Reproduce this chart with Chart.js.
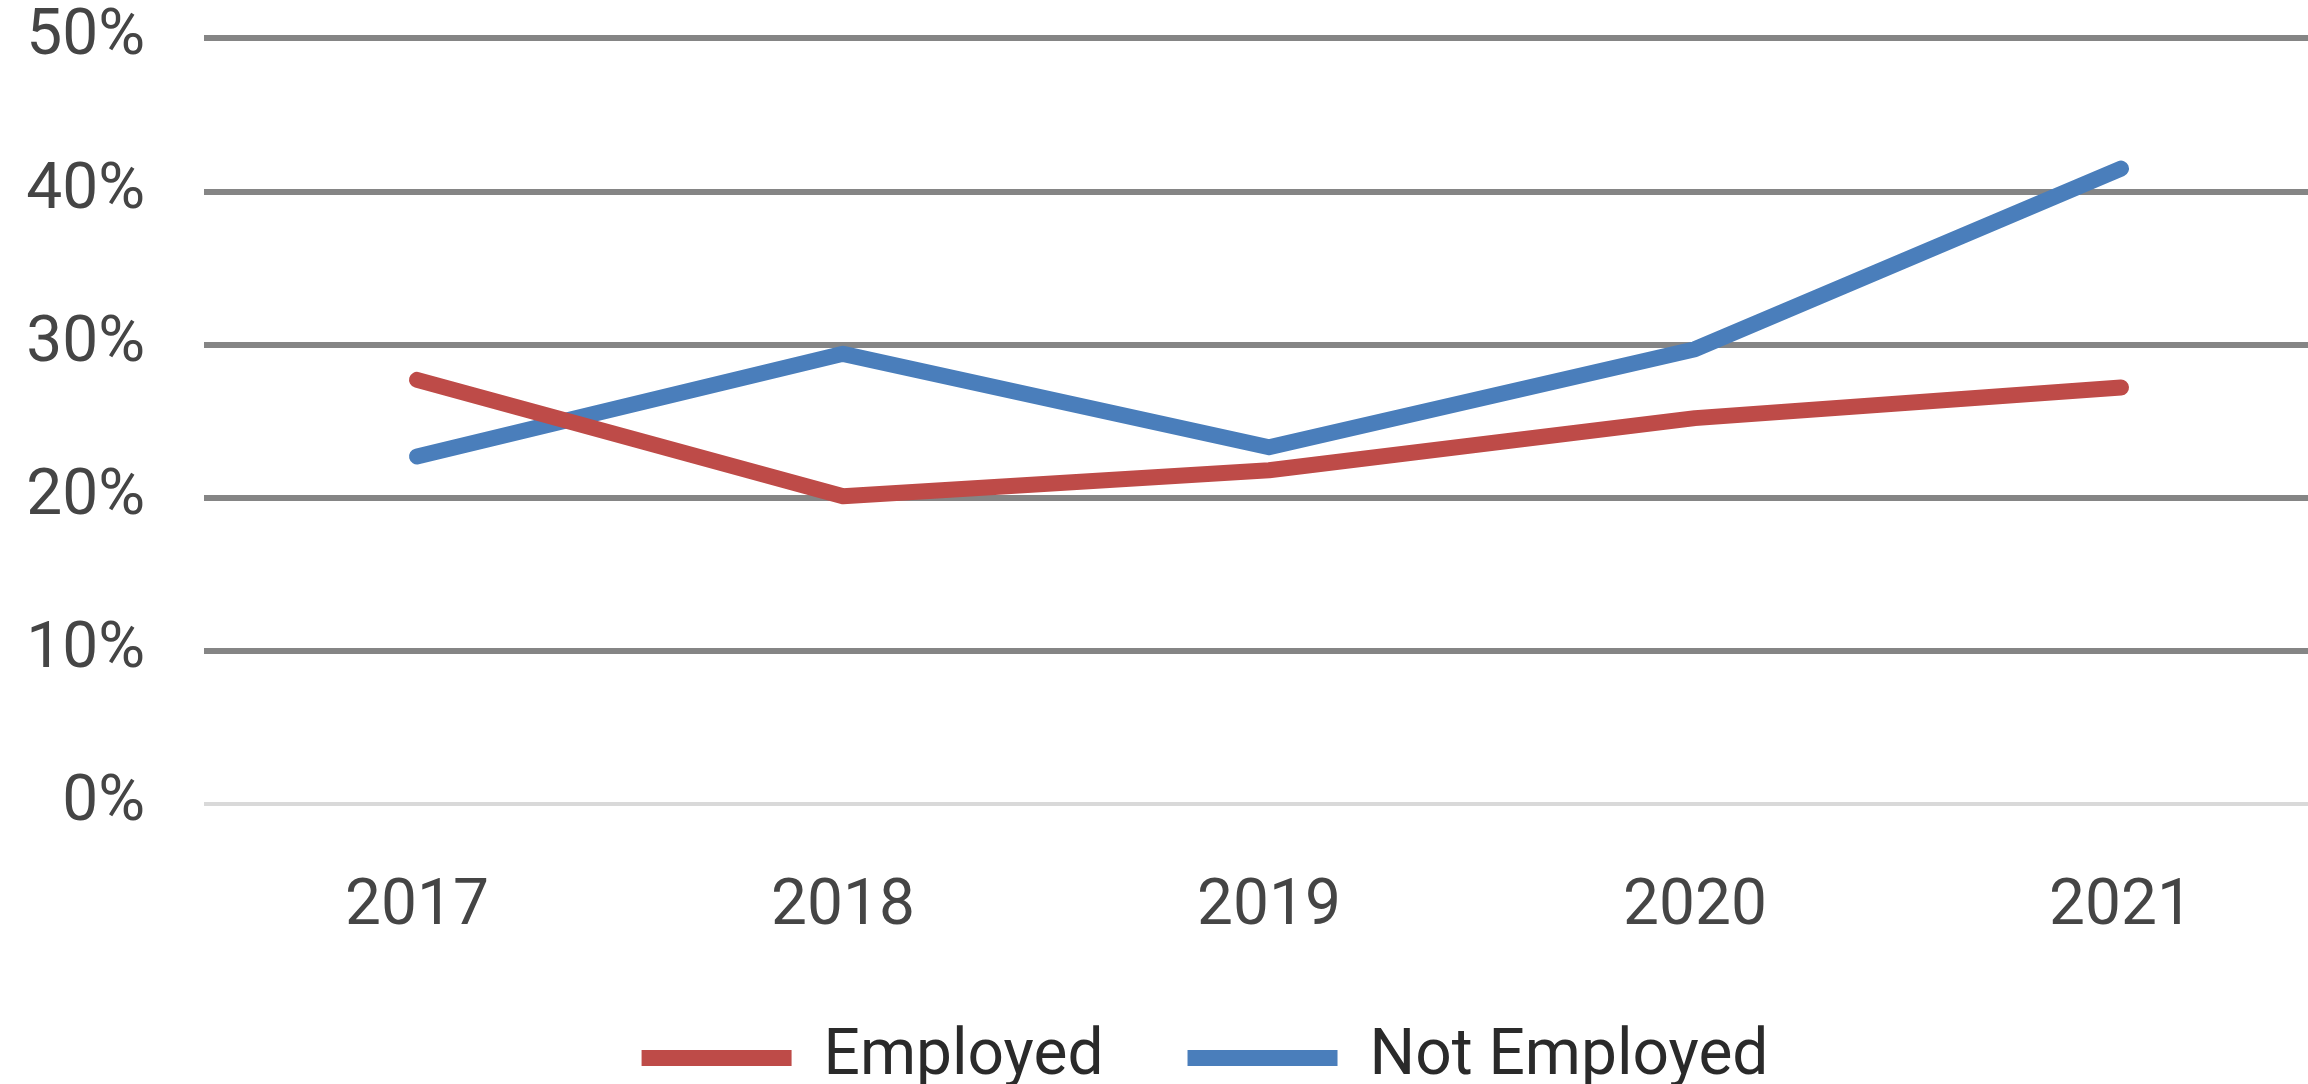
<!DOCTYPE html>
<html>
<head>
<meta charset="utf-8">
<script src="https://cdn.jsdelivr.net/npm/chart.js@4"></script>
<style>
  html, body { margin: 0; padding: 0; background: #fff; overflow: hidden; }
  #wrap { width: 2334px; height: 1084px; }
</style>
</head>
<body>
<div id="wrap"><canvas id="empChart"></canvas></div>
<script>
// Share of respondents by year, in percent
const years = ['2017', '2018', '2019', '2020', '2021'];
const employed = [27.7, 20.1, 21.8, 25.2, 27.2];
const notEmployed = [22.7, 29.4, 23.3, 29.7, 41.5];
const yTicks = [0, 10, 20, 30, 40, 50];

const RED = '#BE4B48';
const BLUE = '#4A7EBB';

// nudge the legend row sideways after layout
const legendShift = {
    id: 'legendShift',
    afterLayout(chart) {
        chart.legend.left += 25;
        chart.legend.right += 25;
    }
};

const ctx = document.getElementById('empChart').getContext('2d');
const empChart = new Chart(ctx, {
    type: 'line',
    data: {
        labels: years,
        datasets: [
            {
                label: 'Employed',
                data: employed,
                borderColor: RED,
                backgroundColor: RED,
                borderWidth: 16,
                borderCapStyle: 'round',
                borderJoinStyle: 'round',
                pointRadius: 0,
                tension: 0
            },
            {
                label: 'Not Employed',
                data: notEmployed,
                borderColor: BLUE,
                backgroundColor: BLUE,
                borderWidth: 16,
                borderCapStyle: 'round',
                borderJoinStyle: 'round',
                pointRadius: 0,
                tension: 0
            }
        ]
    },
    options: {
        responsive: true,
        maintainAspectRatio: false,
        animation: false,
        layout: {
            padding: { top: 3, left: 26, right: 0, bottom: -16 }
        },
        plugins: {
            tooltip: { enabled: false },
            legend: {
                position: 'bottom',
                labels: {
                    usePointStyle: true,
                    pointStyle: 'line',
                    pointStyleWidth: 150,
                    boxHeight: 14,
                    padding: 84,
                    color: '#2a2a2a',
                    font: { family: 'Roboto', size: 64 }
                }
            }
        },
        scales: {
            x: {
                type: 'category',
                offset: true,
                grid: { display: false, drawTicks: false },
                border: { display: false },
                afterFit(axis) { axis.height = 138; },
                ticks: {
                    color: '#454545',
                    padding: 66,
                    font: { family: 'Roboto', size: 64 }
                }
            },
            y: {
                min: 0,
                max: 50,
                afterBuildTicks(axis) {
                    axis.ticks = yTicks.map(v => ({ value: v }));
                },
                afterFit(axis) { axis.width = 178; },
                grid: {
                    drawTicks: true,
                    tickLength: 59,
                    tickColor: 'rgba(0,0,0,0)',
                    color: c => c.tick && c.tick.value === 0 ? '#d9d9d9' : '#858585',
                    lineWidth: c => c.tick && c.tick.value === 0 ? 4 : 6
                },
                border: { display: false },
                ticks: {
                    color: '#454545',
                    padding: 0,
                    font: { family: 'Roboto', size: 64 },
                    callback: v => v + '%'
                }
            }
        }
    },
    plugins: [legendShift]
});
</script>
</body>
</html>
